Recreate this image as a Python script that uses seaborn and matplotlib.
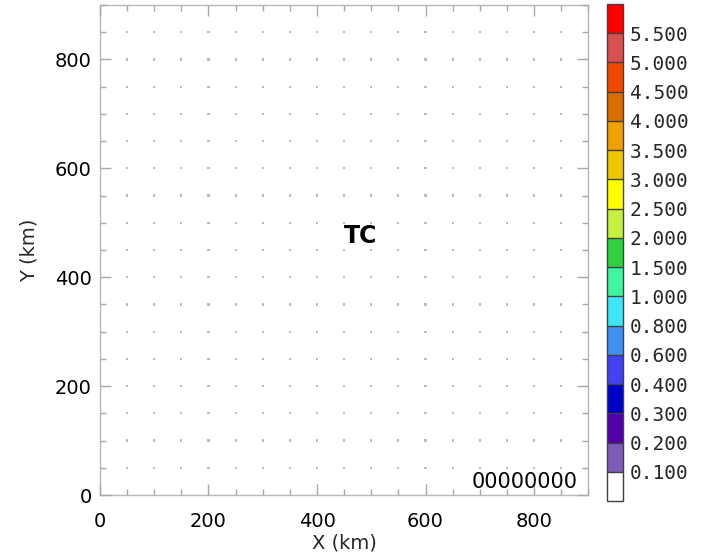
import numpy as np
import pandas as pd
import matplotlib
matplotlib.use("Agg")
import matplotlib.pyplot as plt
import seaborn as sns
from matplotlib.colors import ListedColormap, BoundaryNorm
from matplotlib.cm import ScalarMappable
from matplotlib.ticker import MultipleLocator, NullLocator

# ---------------- data ----------------
grid_x_km = [50, 100, 150, 200, 250, 300, 350, 400, 450, 500, 550, 600, 650, 700, 750, 800, 850]
grid_y_km = [50, 100, 150, 200, 250, 300, 350, 400, 450, 500, 550, 600, 650, 700, 750, 800, 850]
field_value = 0.0          # whole field below the first level (white)
level_bounds = [0.0, 0.1, 0.2, 0.3, 0.4, 0.6, 0.8, 1.0, 1.5, 2.0, 2.5, 3.0,
                3.5, 4.0, 4.5, 5.0, 5.5, 6.0]
level_labels = ["0.100", "0.200", "0.300", "0.400", "0.600", "0.800", "1.000",
                "1.500", "2.000", "2.500", "3.000", "3.500", "4.000", "4.500",
                "5.000", "5.500"]
level_colors = ["#ffffff", "#7c5cb8", "#5200a8", "#0000c8", "#4242f0", "#4090f0",
                "#40e4f8", "#40f4a0", "#30d040", "#c8f040", "#ffff00", "#eec800",
                "#f0a000", "#dc6c00", "#f04800", "#d85050", "#ff0000"]
tick_values = [0, 200, 400, 600, 800]
center_label = "TC"
time_label = "00000000"

# ---------------- style ----------------
sns.set_theme(style="white")
plt.rcParams["font.family"] = ["DejaVu Sans"]

fig = plt.figure(figsize=(7.06, 5.58), dpi=100)
ax = fig.add_axes([0.1416, 0.1129, 0.6917, 0.8781])
ax.set_axisbelow(False)

cmap = ListedColormap(level_colors)
norm = BoundaryNorm(level_bounds, cmap.N)

# field on domain edges
edges = [0] + grid_x_km + [900]
field = np.full((len(edges) - 1, len(edges) - 1), field_value)
ax.pcolormesh(edges, edges, field, cmap=cmap, norm=norm, shading="flat", zorder=0.2)

# grid points
gx, gy = np.meshgrid(grid_x_km, grid_y_km)
pts = pd.DataFrame({"x": gx.ravel(), "y": gy.ravel()})
sns.scatterplot(data=pts, x="x", y="y", ax=ax, s=2.5, marker="s",
                color="#bcbcbc", edgecolor="none", legend=False)

ax.set_xlim(0, 900)
ax.set_ylim(0, 900)
ax.set_xticks(tick_values)
ax.set_yticks(tick_values)
ax.xaxis.set_minor_locator(MultipleLocator(50))
ax.yaxis.set_minor_locator(MultipleLocator(50))
ax.tick_params(which="both", direction="in", top=True, right=True,
               bottom=True, left=True, color="#a8a8a8", width=1)
ax.tick_params(which="major", length=8)
ax.tick_params(which="minor", length=4)
ax.tick_params(axis="x", which="major", labelsize=14, pad=12, labelcolor="black")
ax.tick_params(axis="y", which="major", labelsize=14, pad=6, labelcolor="black")
for s in ax.spines.values():
    s.set_color("#b8b8b8")
    s.set_linewidth(1)

ax.set_xlabel("X (km)", fontsize=14, labelpad=2)
ax.set_ylabel("Y (km)", fontsize=14, labelpad=12)

ax.text(480, 475, center_label, fontsize=17, fontweight="bold",
        ha="center", va="center", color="black")
ax.text(880, 24, time_label, fontsize=15, ha="right", va="center", color="black")

# colorbar
cax = fig.add_axes([0.8598, 0.1022, 0.0227, 0.8906])
sm = ScalarMappable(cmap=cmap, norm=norm)
cb = fig.colorbar(sm, cax=cax, boundaries=level_bounds, spacing="uniform",
                  drawedges=True, ticks=level_bounds[1:-1])
cb.ax.yaxis.set_minor_locator(NullLocator())
cb.ax.set_yticklabels(level_labels, family="DejaVu Sans Mono", fontsize=14)
cb.ax.tick_params(which="both", length=0, pad=5)
cb.outline.set_edgecolor("#404040")
cb.outline.set_linewidth(1)
cb.dividers.set_color("#404040")
cb.dividers.set_linewidth(1)

fig.savefig("out.png", dpi=100)
